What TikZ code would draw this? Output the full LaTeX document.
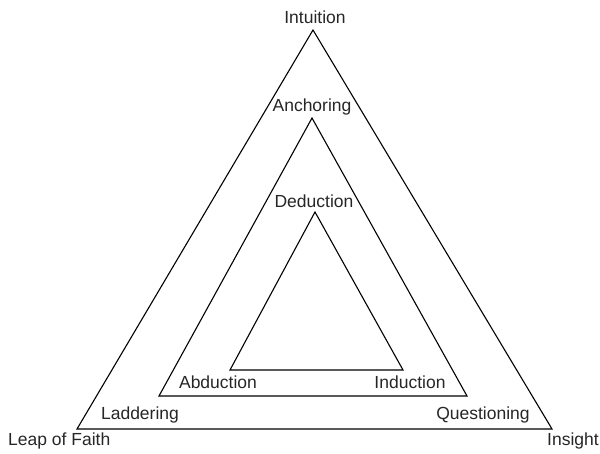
\documentclass[tikz,border=0pt]{standalone}
\usepackage{fontspec}
\setmainfont{Liberation Sans}
\begin{document}
\begin{tikzpicture}[x=1pt,y=-1pt,
  tri/.style={draw=black,line width=1.1pt,line join=miter},
  lbl/.style={font=\fontsize{17.5}{20}\selectfont,inner sep=0pt,text=black!85}]
\useasboundingbox (0,0) rectangle (600,454);
% outer triangle
\coordinate (oA) at (313,30);
\coordinate (oL) at (77,429);
\coordinate (oR) at (552,429);
% middle triangle
\coordinate (mA) at (312,118);
\coordinate (mL) at (159,396);
\coordinate (mR) at (467,396);
% inner triangle
\coordinate (iA) at (315,212);
\coordinate (iL) at (230,370);
\coordinate (iR) at (403,370);
\draw[tri] (oA) -- (oR) -- (oL) -- cycle;
\draw[tri] (mA) -- (mR) -- (mL) -- cycle;
\draw[tri] (iA) -- (iR) -- (iL) -- cycle;
% labels
\node[lbl] (intuition) at (315,17) {Intuition};
\node[lbl] (anchoring) at (312,107) {Anchoring};
\node[lbl] (deduction) at (314,201) {Deduction};
\node[lbl] (abduction) at (218,382) {Abduction};
\node[lbl] (induction) at (410,382) {Induction};
\node[lbl] (laddering) at (140,415) {Laddering};
\node[lbl] (questioning) at (483,415) {Questioning};
\node[lbl,anchor=west] (leap) at (8,441) {Leap of Faith};
\node[lbl] (insight) at (573,441) {Insight};
\end{tikzpicture}
\end{document}
